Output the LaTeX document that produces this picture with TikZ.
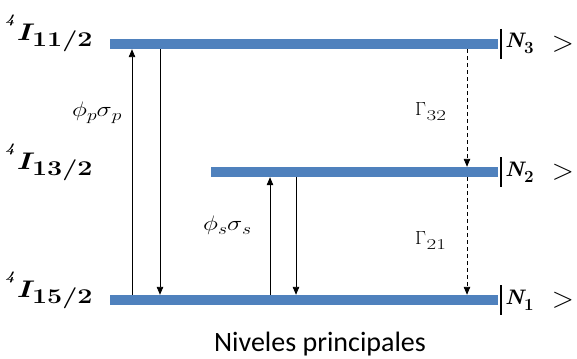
\documentclass[tikz,border=0pt]{standalone}
\usepackage{fix-cm}
\usepackage{amsmath}
\usepackage{fontspec}
\newfontfamily\capfont{Carlito}
\usetikzlibrary{arrows.meta}
\definecolor{barblue}{RGB}{79,129,189}
\newcommand{\lvl}[1]{\scalebox{1.28}[1]{\raisebox{17pt}{\fontsize{13}{14}\selectfont\bfseries\itshape 4}\kern1pt{\fontsize{24}{26}\selectfont\bfseries\itshape I}\kern1pt\raisebox{-6pt}{\fontsize{21}{23}\selectfont\bfseries #1}}}
\newcommand{\ket}[1]{{\fontsize{21}{22}\selectfont\bfseries\itshape N}\raisebox{-6pt}{\fontsize{17}{19}\selectfont\bfseries #1}}
\newcommand{\rate}[2]{\scalebox{1.22}[1]{{\fontsize{21}{22}\selectfont$\phi$}\raisebox{-4pt}{\fontsize{16}{17}\selectfont$#1$}{\fontsize{21}{22}\selectfont$\sigma$}\raisebox{-4pt}{\fontsize{16}{17}\selectfont$#2$}}}
\newcommand{\gam}[1]{{\fontsize{19}{21}\selectfont$\Gamma$}\kern0.5pt\raisebox{-5pt}{\scalebox{1.4}[1]{\fontsize{15}{16}\selectfont #1}}}
\tikzset{
  bar/.style={draw=none,fill=barblue,minimum height=10pt,inner sep=0pt},
  arr/.style={-{Triangle[length=8pt,width=6.5pt]},line width=0.9pt},
  darr/.style={arr,dash pattern=on 4pt off 3pt},
  lbl/.style={inner sep=0pt,anchor=base west},
  gt/.style={inner sep=0pt,font=\fontsize{29}{31}\selectfont},
  tick/.style={line width=1.4pt}
}
\begin{document}
\begin{tikzpicture}[x=1pt,y=-1pt]
\useasboundingbox (0,0) rectangle (577,358);
% bars
\node[bar,minimum width=388pt] (b3) at (304,44) {};
\node[bar,minimum width=287pt] (b2) at (354.5,172) {};
\node[bar,minimum width=388pt] (b1) at (304,300) {};
% ticks
\coordinate (t3a) at (501,29); \coordinate (t3b) at (501,59);
\coordinate (t2a) at (501,157); \coordinate (t2b) at (501,187);
\coordinate (t1a) at (501,285); \coordinate (t1b) at (501,315);
\draw[tick] (t3a) -- (t3b);
\draw[tick] (t2a) -- (t2b);
\draw[tick] (t1a) -- (t1b);
% level labels
\node[lbl] (l3) at (5,41) {\lvl{11/2}};
\node[lbl] (l2) at (5,169) {\lvl{13/2}};
\node[lbl] (l1) at (5,297) {\lvl{15/2}};
\node[lbl] (n3) at (505,48) {\ket{3}};
\node[lbl] (n2) at (505,176) {\ket{2}};
\node[lbl] (n1) at (505,304) {\ket{1}};
\node[gt] (g3) at (563,44) {$>$};
\node[gt] (g2) at (563,172) {$>$};
\node[gt] (g1) at (563,300) {$>$};
% transitions
\coordinate (xp) at (132,0); \coordinate (xd) at (160,0);
\coordinate (xs) at (270,0); \coordinate (xe) at (296,0);
\coordinate (xg) at (467,0);
\draw[arr] (b1.north -| xp) -- (b3.south -| xp);
\draw[arr] (b3.south -| xd) -- (b1.north -| xd);
\draw[arr] (b1.north -| xs) -- (b2.south -| xs);
\draw[arr] (b2.south -| xe) -- (b1.north -| xe);
\draw[darr] (b3.south -| xg) -- (b2.north -| xg);
\draw[darr] (b2.south -| xg) -- (b1.north -| xg);
% rate labels
\node[lbl] (pp) at (72,117) {\rate{p}{p}};
\node[lbl] (ps) at (203,230) {\rate{s}{s}};
\node[lbl] (G32) at (415,116) {\gam{32}};
\node[lbl] (G21) at (415,244) {\gam{21}};
% caption
\node[inner sep=0pt,anchor=base,font=\capfont\fontsize{28}{30}\selectfont] (cap) at (320,351) {Niveles principales};
\end{tikzpicture}
\end{document}
